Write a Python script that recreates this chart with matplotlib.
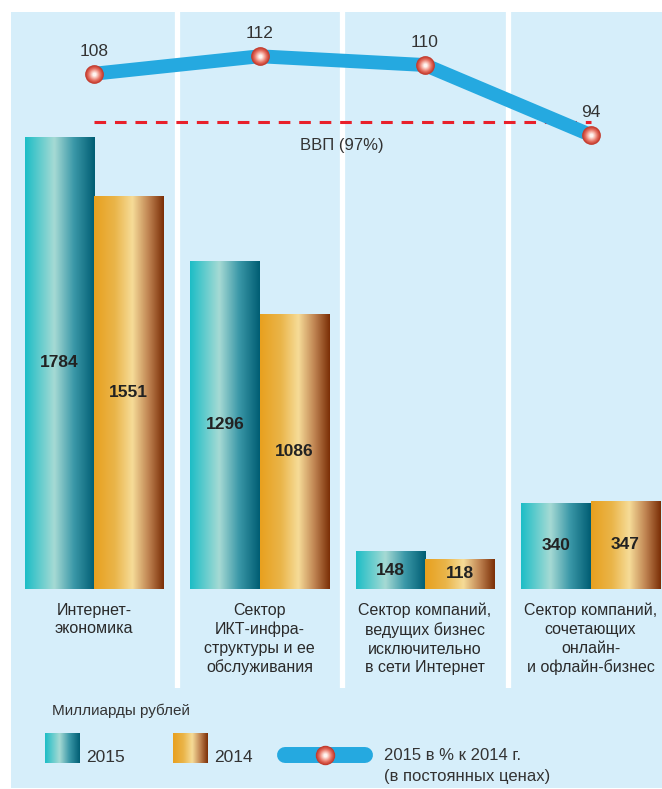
import matplotlib
matplotlib.use("Agg")
import matplotlib.pyplot as plt
import numpy as np
from matplotlib.colors import LinearSegmentedColormap
from matplotlib.patches import Rectangle
from matplotlib.lines import Line2D

plt.rcParams['font.family'] = ['Liberation Sans', 'DejaVu Sans']

# data
categories = ['Интернет-\nэкономика',
              'Сектор\nИКТ-инфра-\nструктуры и ее\nобслуживания',
              'Сектор компаний,\nведущих бизнес\nисключительно\nв сети Интернет',
              'Сектор компаний,\nсочетающих\nонлайн-\nи офлайн-бизнес']
values_2015 = [1784, 1296, 148, 340]
values_2014 = [1551, 1086, 118, 347]
growth_pct = [108, 112, 110, 94]
gdp_pct = 97

W, H = 662, 789
BG = '#d6eefa'
teal_cmap = LinearSegmentedColormap.from_list(
    'teal', [(0, '#1cbdc6'), (0.42, '#a6dad4'), (0.7, '#3b98a8'), (1, '#005d73')])
orange_cmap = LinearSegmentedColormap.from_list(
    'orange', [(0, '#e8a01e'), (0.3, '#eab54a'), (0.55, '#f6dc98'), (0.78, '#c08452'), (1, '#7a2e06')])
sphere_cmap = LinearSegmentedColormap.from_list(
    'sphere', [(0, '#c23a2c'), (0.35, '#e2685a'), (0.7, '#f6b4a8'), (1, '#fff4f0')])
grad = np.linspace(0, 1, 256).reshape(1, -1)

fig = plt.figure(figsize=(W / 100, H / 100), dpi=100)
fig.patches.append(Rectangle((11 / W, 1 / H), (W - 11) / W, (H - 13) / H,
                             transform=fig.transFigure, facecolor=BG, edgecolor='none', zorder=-10))

ax = fig.add_axes([11 / W, (H - 688) / H, (W - 11) / W, (688 - 12) / H])
ax.patch.set_alpha(0)
x = np.arange(len(categories))
bw = 0.417
xlim = (-0.5015, 3.432)
ylim = (-391, 2277)


def gradient_bars(bars, cmap):
    for b in bars:
        x0, w, h = b.get_x(), b.get_width(), b.get_height()
        im = ax.imshow(grad, extent=[x0, x0 + w, 0, h], aspect='auto', cmap=cmap,
                       interpolation='bicubic', zorder=2)
        im.set_clip_path(b)


def sphere_markers(axis, xs, ys, size, z, **kw):
    steps = 9
    for k in range(steps):
        t = k / (steps - 1)
        axis.plot(xs, ys, 'o', ms=size * (1 - 0.8 * t), mfc=sphere_cmap(t), mec='none',
                  zorder=z + k * 0.01, **kw)


b15 = ax.bar(x - bw / 2, values_2015, bw, color='none', zorder=2)
b14 = ax.bar(x + bw / 2, values_2014, bw, color='none', zorder=2)
gradient_bars(b15, teal_cmap)
gradient_bars(b14, orange_cmap)

for i in range(len(categories)):
    ax.text(x[i] - bw / 2, values_2015[i] / 2, str(values_2015[i]), ha='center', va='center',
            fontsize=12.5, fontweight='bold', color='#222222', zorder=4)
    ax.text(x[i] + bw / 2, values_2014[i] / 2, str(values_2014[i]), ha='center', va='center',
            fontsize=12.5, fontweight='bold', color='#222222', zorder=4)
    ax.text(x[i], -55, categories[i], ha='center', va='top', fontsize=11.5,
            color='#2a2a2a', linespacing=1.3, zorder=4)

for s in x[:-1] + 0.5:
    ax.axvline(s, color='white', lw=3.8, zorder=1)

ax.set_xlim(*xlim)
ax.set_ylim(*ylim)
ax.axis('off')

# line axes
ax2 = fig.add_axes(ax.get_position())
ax2.patch.set_alpha(0)
ax2.set_xlim(*xlim)
ax2.set_ylim(-32.56, 122.13)
ax2.axis('off')
ax2.hlines(gdp_pct, x[0], x[-1], colors='#e8202a', lw=2.2, linestyles=(0, (3.8, 2.9)), zorder=3)
ax2.text(1.5, gdp_pct - 5.5, 'ВВП (97%)', ha='center', va='center', fontsize=12, color='#333333')
ax2.plot(x, growth_pct, color='#25a9e0', lw=10, solid_capstyle='butt', solid_joinstyle='miter', zorder=4)
sphere_markers(ax2, x, growth_pct, 13.5, 5)
for i, v in enumerate(growth_pct):
    ax2.text(x[i], v + 5.2, str(v), ha='center', va='center', fontsize=12.5, color='#333333')

# legend
fig.text(52 / W, 1 - 711 / H, 'Миллиарды рублей', ha='left', va='center', fontsize=11, color='#333333')
for x0, cmap, lab in [(45, teal_cmap, '2015'), (173, orange_cmap, '2014')]:
    sw = fig.add_axes([x0 / W, 1 - 763 / H, 35 / W, 30 / H])
    sw.imshow(grad, aspect='auto', cmap=cmap, interpolation='bicubic')
    sw.axis('off')
    fig.text((x0 + 41) / W, 1 - 757 / H, lab, ha='left', va='center', fontsize=12.5, color='#333333')

lg = fig.add_axes([0, 0, 1, 1])
lg.set_xlim(0, W)
lg.set_ylim(H, 0)
lg.axis('off')
lg.patch.set_alpha(0)
lg.plot([285, 365], [755, 755], color='#25a9e0', lw=11.5, solid_capstyle='round')
sphere_markers(lg, [325], [755], 14, 5)
fig.text(384 / W, 1 - 756 / H, '2015 в % к 2014 г.', ha='left', va='center', fontsize=12, color='#333333')
fig.text(384 / W, 1 - 777 / H, '(в постоянных ценах)', ha='left', va='center', fontsize=12, color='#333333')

fig.savefig('out.png', dpi=100, facecolor='white')
